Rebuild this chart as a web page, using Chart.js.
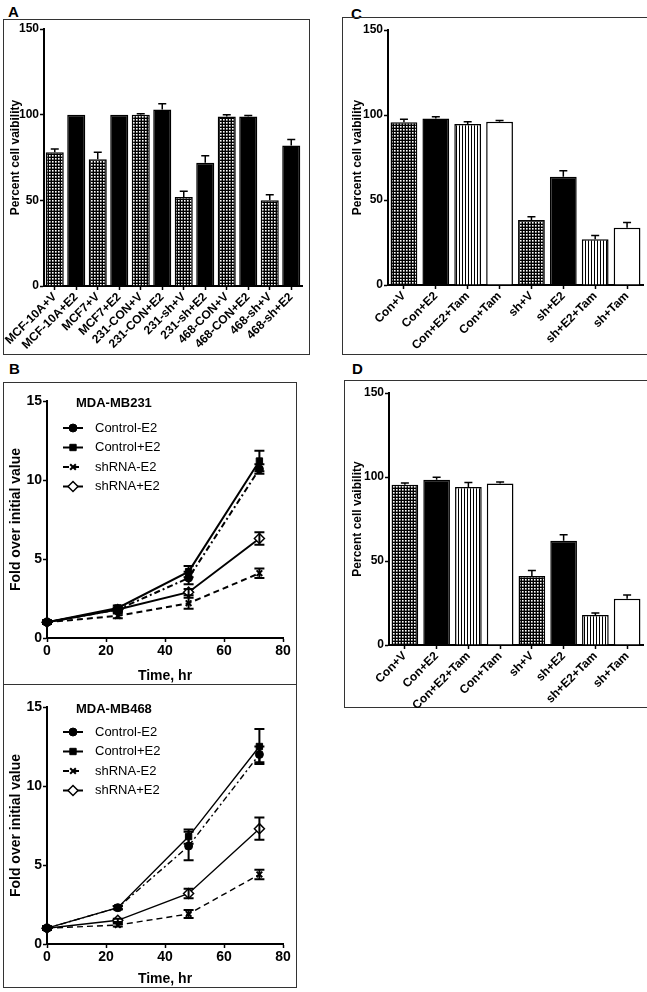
<!DOCTYPE html>
<html>
<head>
<meta charset="utf-8">
<script src="https://cdn.jsdelivr.net/npm/chart.js@4/dist/chart.umd.min.js"></script>
<style>
body { margin: 0; width: 647px; height: 992px; background: #fff; position: relative; overflow: hidden; font-family: "Liberation Sans", Arial, sans-serif; }
.box { position: absolute; border: 1.5px solid #333; box-sizing: border-box; }
.lab { position: absolute; font-weight: bold; font-size: 15px; line-height: 1; }
canvas { position: absolute; }
</style>
</head>
<body>
<div class="lab" style="left:8px;top:4px">A</div>
<div class="lab" style="left:351px;top:6px">C</div>
<div class="lab" style="left:9px;top:361px">B</div>
<div class="lab" style="left:352px;top:361px">D</div>

<div class="box" style="left:3px;top:19px;width:307px;height:336px"></div>
<div class="box" style="left:342px;top:17px;width:306px;height:338px"></div>
<div class="box" style="left:3px;top:382px;width:294px;height:303px"></div>
<div class="box" style="left:3px;top:684px;width:294px;height:304px"></div>
<div class="box" style="left:344px;top:380px;width:304px;height:328px"></div>

<canvas id="chartA" width="307" height="336" style="left:3px;top:19px"></canvas>
<canvas id="chartC" width="304" height="338" style="left:342px;top:17px"></canvas>
<canvas id="chartB1" width="294" height="303" style="left:3px;top:382px"></canvas>
<canvas id="chartB2" width="294" height="303" style="left:3px;top:685px"></canvas>
<canvas id="chartD" width="302" height="328" style="left:344px;top:380px"></canvas>

<script>
// Panel A - percent viability per cell line
const aLabels = ['MCF-10A+V', 'MCF-10A+E2', 'MCF7+V', 'MCF7+E2', '231-CON+V', '231-CON+E2',
                 '231-sh+V', '231-sh+E2', '468-CON+V', '468-CON+E2', '468-sh+V', '468-sh+E2'];
const aValues = [78, 100, 74, 100, 100, 103, 52, 72, 99, 99, 50, 82];
const aErrors = [2, 0, 4, 0, 0.5, 3.3, 3.3, 4, 1, 0.5, 3.3, 3.5];
const aFills  = ['check', 'black', 'check', 'black', 'check', 'black',
                 'check', 'black', 'check', 'black', 'check', 'black'];

// Panels C and D - tamoxifen treatments
const cdLabels = ['Con+V', 'Con+E2', 'Con+E2+Tam', 'Con+Tam', 'sh+V', 'sh+E2', 'sh+E2+Tam', 'sh+Tam'];
const cdFills  = ['check', 'black', 'stripe', 'white', 'check', 'black', 'stripe', 'white'];
const cValues = [95.7, 98, 94.7, 96, 38.2, 63.7, 26.9, 33.7];
const cErrors = [1.8, 1, 1.4, 0.8, 2, 3.5, 2.2, 3];
const dValues = [95.4, 98.4, 94, 96.2, 41, 62, 17.9, 27.6];
const dErrors = [1, 1.4, 2.8, 0.8, 3.3, 3.6, 1.2, 2.2];

// Panel B - growth curves
const hours = [0, 24, 48, 72];
const seriesNames = ['Control-E2', 'Control+E2', 'shRNA-E2', 'shRNA+E2'];

const mb231CtrlMinus    = [1, 1.8, 3.8, 10.7];
const mb231CtrlMinusErr = [0.1, 0.15, 0.4, 0.3];
const mb231CtrlPlus     = [1, 1.9, 4.2, 11.2];
const mb231CtrlPlusErr  = [0.1, 0.15, 0.35, 0.65];
const mb231ShMinus      = [1, 1.4, 2.2, 4.1];
const mb231ShMinusErr   = [0.1, 0.15, 0.35, 0.3];
const mb231ShPlus       = [1, 1.8, 2.9, 6.3];
const mb231ShPlusErr    = [0.1, 0.1, 0.2, 0.4];

const mb468CtrlMinus    = [1, 2.3, 6.2, 12.0];
const mb468CtrlMinusErr = [0.1, 0.1, 0.9, 0.5];
const mb468CtrlPlus     = [1, 2.3, 6.8, 12.5];
const mb468CtrlPlusErr  = [0.1, 0.1, 0.45, 1.1];
const mb468ShMinus      = [1, 1.2, 1.9, 4.4];
const mb468ShMinusErr   = [0.1, 0.1, 0.25, 0.3];
const mb468ShPlus       = [1, 1.5, 3.2, 7.3];
const mb468ShPlusErr    = [0.1, 0.1, 0.3, 0.7];

const FONT = '"Liberation Sans", Arial, sans-serif';

// fill patterns
function makePattern(kind) {
    const tile = document.createElement('canvas');
    const t = tile.getContext('2d');
    if (kind === 'check') {
        tile.width = 3; tile.height = 3;
        t.fillStyle = '#000'; t.fillRect(0, 0, 3, 3);
        t.fillStyle = '#fff'; t.fillRect(1, 1, 1.6, 1.6);
    } else {
        tile.width = 3; tile.height = 1;
        t.fillStyle = '#fff'; t.fillRect(0, 0, 3, 1);
        t.fillStyle = '#000'; t.fillRect(0, 0, 1, 1);
    }
    return t.createPattern(tile, 'repeat');
}
const patterns = { check: makePattern('check'), stripe: makePattern('stripe'), black: '#000', white: '#fff' };

// error bars drawn through the y scale
const errorBarPlugin = {
    id: 'errorBars',
    afterDatasetsDraw(chart, args, opts) {
        const ctx = chart.ctx;
        const yScale = chart.scales.y;
        ctx.save();
        ctx.strokeStyle = '#000';
        ctx.lineWidth = opts.width || 1.5;
        chart.data.datasets.forEach((ds, i) => {
            if (!ds.errorBars) return;
            const meta = chart.getDatasetMeta(i);
            meta.data.forEach((el, j) => {
                const v = meta.controller.getParsed(j).y;
                const e = ds.errorBars[j];
                if (!e) return;
                const top = yScale.getPixelForValue(v + e);
                const bot = opts.upOnly ? el.y : yScale.getPixelForValue(v - e);
                ctx.beginPath();
                ctx.moveTo(el.x, top); ctx.lineTo(el.x, bot);
                ctx.moveTo(el.x - opts.cap, top); ctx.lineTo(el.x + opts.cap, top);
                if (!opts.upOnly) { ctx.moveTo(el.x - opts.cap, bot); ctx.lineTo(el.x + opts.cap, bot); }
                ctx.stroke();
            });
        });
        ctx.restore();
    }
};

// legend inside the plot, like the original
const panelLegendPlugin = {
    id: 'panelLegend',
    afterDraw(chart, args, opts) {
        if (!opts.title) return;
        const ctx = chart.ctx, a = chart.chartArea;
        ctx.save();
        ctx.fillStyle = '#000';
        ctx.textBaseline = 'middle';
        ctx.font = 'bold 13px ' + FONT;
        ctx.fillText(opts.title, a.left + 29, a.top + opts.titleY);
        chart.data.datasets.forEach((ds, i) => {
            const y = a.top + opts.rowY + i * opts.rowGap;
            const x0 = a.left + 16;
            ctx.strokeStyle = '#000';
            ctx.lineWidth = 2;
            ctx.setLineDash(ds.borderDash || []);
            ctx.beginPath(); ctx.moveTo(x0, y); ctx.lineTo(x0 + 20, y); ctx.stroke();
            ctx.setLineDash([]);
            ctx.fillStyle = ds.pointBackgroundColor;
            ctx.lineWidth = ds.pointBorderWidth;
            Chart.helpers.drawPoint(ctx, { pointStyle: ds.pointStyle, radius: ds.pointRadius, borderWidth: ds.pointBorderWidth, rotation: 0 }, x0 + 10, y);
            ctx.fillStyle = '#000';
            ctx.font = '13px ' + FONT;
            ctx.fillText(ds.label, a.left + 48, y);
        });
        ctx.restore();
    }
};

Chart.register(errorBarPlugin, panelLegendPlugin);

function axisStyle(size) {
    return {
        grid: { drawOnChartArea: false, offset: false, tickLength: 4, tickColor: '#000', tickWidth: 1.5 },
        border: { color: '#000', width: 2 },
        ticks: { color: '#000', font: { family: FONT, weight: 'bold', size: size } }
    };
}

function barChart(id, labels, values, errors, fills, pad, yWidth, xHeight, titlePad) {
    const ax = axisStyle(12), ay = axisStyle(12);
    return new Chart(document.getElementById(id), {
        type: 'bar',
        data: {
            labels: labels,
            datasets: [{
                data: values,
                errorBars: errors,
                backgroundColor: fills.map(f => patterns[f]),
                borderColor: '#000',
                borderWidth: 1.5,
                barPercentage: 0.84,
                categoryPercentage: 1
            }]
        },
        options: {
            responsive: false,
            animation: false,
            layout: { padding: pad },
            plugins: {
                legend: { display: false },
                tooltip: { enabled: false },
                errorBars: { cap: 4, upOnly: true, width: 1.5 }
            },
            scales: {
                x: Object.assign(ax, {
                    ticks: Object.assign(ax.ticks, { minRotation: 45, maxRotation: 45, autoSkip: false, padding: 0 }),
                    afterFit: s => { s.height = xHeight; }
                }),
                y: Object.assign(ay, {
                    min: 0, max: 150,
                    ticks: Object.assign(ay.ticks, { stepSize: 50, padding: 1 }),
                    title: { display: true, text: 'Percent cell vaibility', color: '#000',
                             font: { family: FONT, weight: 'bold', size: 12 }, padding: titlePad },
                    afterFit: s => { s.width = yWidth; }
                })
            }
        }
    });
}

barChart('chartA', aLabels, aValues, aErrors, aFills, { top: 10, right: 8, left: 0, bottom: 0 }, 41, 69, 5);
barChart('chartC', cdLabels, cValues, cErrors, cdFills, { top: 13, right: 3, left: 0, bottom: 0 }, 46, 70, 8);
barChart('chartD', cdLabels, dValues, dErrors, cdFills, { top: 13, right: 3, left: 0, bottom: 0 }, 45, 63, 6);

const lineStyles = [
    { borderDash: [6, 3, 2, 3], pointStyle: 'circle', pointRadius: 4, fill: '#000', pw: 1 },
    { borderDash: [], pointStyle: 'rect', pointRadius: 4.5, fill: '#000', pw: 1 },
    { borderDash: [6, 4], pointStyle: 'crossRot', pointRadius: 4, fill: '#000', pw: 2 },
    { borderDash: [], pointStyle: 'rectRot', pointRadius: 5, fill: '#fff', pw: 1.5 }
];

function lineChart(id, title, seriesValues, seriesErrors, lineW, pad, xHeight, rowY) {
    const ax = axisStyle(14), ay = axisStyle(14);
    return new Chart(document.getElementById(id), {
        type: 'line',
        data: {
            datasets: seriesValues.map((vals, k) => ({
                label: seriesNames[k],
                data: hours.map((h, j) => ({ x: h, y: vals[j] })),
                errorBars: seriesErrors[k],
                borderColor: '#000',
                borderWidth: lineW,
                borderDash: lineStyles[k].borderDash,
                pointStyle: lineStyles[k].pointStyle,
                pointRadius: lineStyles[k].pointRadius,
                pointBackgroundColor: lineStyles[k].fill,
                pointBorderColor: '#000',
                pointBorderWidth: lineStyles[k].pw,
                tension: 0,
                clip: false
            }))
        },
        options: {
            responsive: false,
            animation: false,
            layout: { padding: pad },
            plugins: {
                legend: { display: false },
                tooltip: { enabled: false },
                errorBars: { cap: 5, upOnly: false, width: 2 },
                panelLegend: { title: title, titleY: 2, rowY: rowY, rowGap: 19.5 }
            },
            scales: {
                x: Object.assign(ax, {
                    type: 'linear', min: 0, max: 80,
                    ticks: Object.assign(ax.ticks, { stepSize: 20, padding: 1 }),
                    title: { display: true, text: 'Time, hr', color: '#000',
                             font: { family: FONT, weight: 'bold', size: 14 }, padding: 0 },
                    afterFit: s => { s.height = xHeight; }
                }),
                y: Object.assign(ay, {
                    min: 0, max: 15,
                    ticks: Object.assign(ay.ticks, { stepSize: 5, padding: 1 }),
                    title: { display: true, text: 'Fold over initial value', color: '#000',
                             font: { family: FONT, weight: 'bold', size: 14 }, padding: 5 },
                    afterFit: s => { s.width = 44; }
                })
            }
        }
    });
}

lineChart('chartB1', 'MDA-MB231',
    [mb231CtrlMinus, mb231CtrlPlus, mb231ShMinus, mb231ShPlus],
    [mb231CtrlMinusErr, mb231CtrlPlusErr, mb231ShMinusErr, mb231ShPlusErr],
    2, { top: 19, right: 14, left: 0, bottom: 0 }, 47, 27);

lineChart('chartB2', 'MDA-MB468',
    [mb468CtrlMinus, mb468CtrlPlus, mb468ShMinus, mb468ShPlus],
    [mb468CtrlMinusErr, mb468CtrlPlusErr, mb468ShMinusErr, mb468ShPlusErr],
    1.4, { top: 22, right: 14, left: 0, bottom: 0 }, 44, 25);
</script>
</body>
</html>
